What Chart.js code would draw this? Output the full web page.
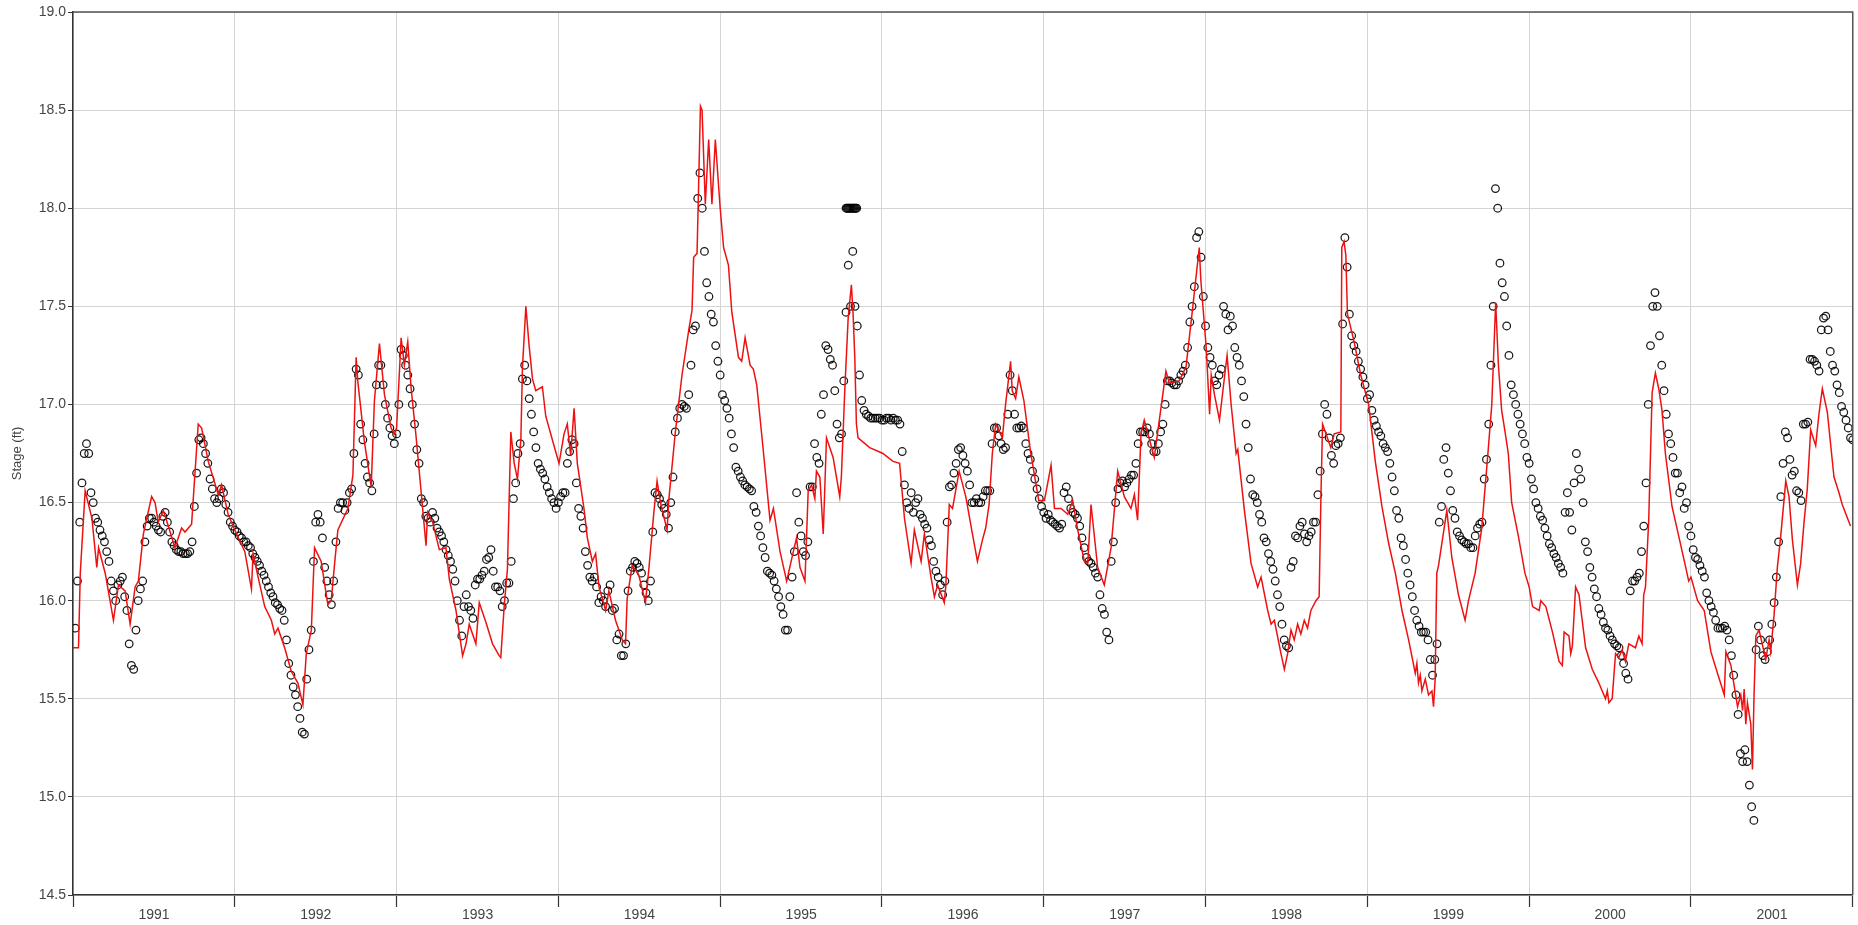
<!DOCTYPE html>
<html>
<head>
<meta charset="utf-8">
<script src="https://cdn.jsdelivr.net/npm/chart.js@4.4.0/dist/chart.umd.min.js"></script>
<style>
  html, body { margin: 0; padding: 0; background: #fff; }
  #wrap { width: 1858px; height: 925px; }
</style>
</head>
<body>
<div id="wrap"><canvas id="stageChart"></canvas></div>
<script>
// years shown on the x axis
const years = [1991, 1992, 1993, 1994, 1995, 1996, 1997, 1998, 1999, 2000, 2001];

// observed stage (ft), read every ~10 days (36 per year), centred in each step
const obsStage = [
  [15.86,16.4,16.75,16.75,16.5,16.4,16.33,16.25,16.1,16.0,16.1,16.02,15.78,15.65,16.0,16.1,16.38,16.42,16.38,16.35,16.45,16.35,16.28,16.25,16.24,16.24,16.3,16.65,16.83,16.75,16.62,16.52,16.52,16.55,16.45,16.38],
  [16.35,16.32,16.3,16.27,16.22,16.18,16.13,16.07,16.02,15.98,15.95,15.8,15.62,15.52,15.4,15.32,15.75,16.2,16.44,16.32,16.1,15.98,16.3,16.5,16.46,16.55,16.75,17.15,16.82,16.63,16.56,17.1,17.2,17.0,16.88,16.8],
  [17.0,17.25,17.15,17.0,16.77,16.52,16.43,16.4,16.42,16.35,16.3,16.23,16.16,16.0,15.82,16.03,15.95,16.08,16.11,16.15,16.22,16.15,16.07,15.97,16.09,16.2,16.6,16.8,17.2,17.03,16.86,16.7,16.65,16.58,16.52,16.47],
  [16.53,16.55,16.76,16.8,16.47,16.37,16.18,16.1,16.07,16.02,15.97,16.08,15.96,15.83,15.72,16.05,16.17,16.19,16.14,16.04,16.1,16.55,16.52,16.47,16.37,16.63,16.93,17.0,16.98,17.2,17.4,18.18,17.78,17.55,17.42,17.22],
  [17.05,16.98,16.85,16.68,16.63,16.59,16.57,16.48,16.38,16.27,16.15,16.13,16.06,15.97,15.85,16.02,16.25,16.4,16.25,16.3,16.58,16.73,16.95,17.3,17.23,17.07,16.83,17.12,17.71,17.78,17.4,17.02,16.95,16.93,16.93,16.93],
  [16.92,16.93,16.93,16.92,16.76,16.5,16.55,16.5,16.44,16.39,16.31,16.2,16.12,16.03,16.4,16.59,16.7,16.78,16.7,16.59,16.5,16.5,16.53,16.56,16.8,16.88,16.8,16.78,17.15,16.95,16.88,16.88,16.75,16.66,16.57,16.48],
  [16.42,16.41,16.39,16.37,16.55,16.52,16.45,16.42,16.32,16.22,16.19,16.14,16.03,15.93,15.8,16.3,16.57,16.61,16.6,16.64,16.7,16.86,16.86,16.85,16.76,16.8,16.9,17.12,17.11,17.1,17.15,17.2,17.42,17.6,17.88,17.55],
  [17.29,17.2,17.1,17.18,17.46,17.45,17.29,17.2,17.04,16.78,16.54,16.5,16.4,16.3,16.2,16.1,15.97,15.8,15.76,16.2,16.32,16.4,16.3,16.35,16.4,16.66,17.0,16.83,16.7,16.8,17.41,17.7,17.35,17.27,17.18,17.1],
  [17.05,16.92,16.86,16.8,16.76,16.63,16.46,16.32,16.21,16.08,15.95,15.87,15.84,15.8,15.62,15.78,16.48,16.78,16.56,16.42,16.33,16.3,16.29,16.27,16.37,16.4,16.72,17.2,18.1,17.72,17.55,17.25,17.05,16.95,16.85,16.73],
  [16.62,16.5,16.43,16.37,16.29,16.24,16.19,16.14,16.55,16.36,16.75,16.62,16.3,16.17,16.06,15.96,15.89,15.85,15.8,15.77,15.72,15.63,16.05,16.1,16.14,16.38,17.0,17.5,17.5,17.2,16.95,16.8,16.65,16.55,16.47,16.38],
  [16.26,16.21,16.15,16.04,15.97,15.9,15.86,15.87,15.8,15.62,15.42,15.18,15.18,14.95,15.75,15.8,15.7,15.8,15.99,16.3,16.7,16.83,16.64,16.56,16.51,16.9,17.23,17.22,17.17,17.44,17.38,17.2,17.1,16.99,16.92,16.83]
];

// observed stage (ft), the readings at the end of each ~10 day step
const obsStageEnd = [
  [16.1,16.6,16.8,16.55,16.42,16.36,16.3,16.2,16.05,16.08,16.12,15.95,15.67,15.85,16.06,16.3,16.42,16.4,16.36,16.43,16.4,16.3,16.26,16.25,16.24,16.25,16.48,16.82,16.8,16.7,16.57,16.5,16.57,16.49,16.4,16.36],
  [16.33,16.3,16.28,16.24,16.2,16.15,16.1,16.04,15.99,15.96,15.9,15.68,15.56,15.46,15.33,15.6,15.85,16.4,16.4,16.17,16.03,16.1,16.47,16.5,16.5,16.57,17.18,16.9,16.7,16.6,16.85,17.2,17.1,16.93,16.84,16.85],
  [17.28,17.2,17.08,16.9,16.7,16.5,16.42,16.45,16.37,16.33,16.26,16.2,16.1,15.9,15.97,15.97,15.91,16.11,16.13,16.21,16.26,16.07,16.05,16.0,16.09,16.52,16.75,17.13,17.12,16.95,16.78,16.67,16.62,16.55,16.5,16.5],
  [16.55,16.7,16.82,16.6,16.43,16.25,16.12,16.12,15.99,16.0,16.05,15.95,15.8,15.72,15.78,16.15,16.2,16.17,16.08,16.0,16.35,16.54,16.49,16.44,16.5,16.86,16.98,16.99,17.05,17.38,18.05,18.0,17.62,17.46,17.3,17.15],
  [17.02,16.93,16.78,16.66,16.61,16.58,16.56,16.45,16.33,16.22,16.14,16.1,16.02,15.93,15.85,16.12,16.55,16.33,16.23,16.58,16.8,16.7,17.05,17.28,17.2,16.9,16.85,17.47,17.5,17.5,17.15,16.97,16.94,16.93,16.93,16.92],
  [16.93,16.92,16.92,16.9,16.59,16.47,16.45,16.52,16.42,16.37,16.28,16.15,16.08,16.1,16.58,16.65,16.77,16.74,16.66,16.5,16.52,16.5,16.56,16.56,16.88,16.84,16.77,16.95,17.07,16.88,16.89,16.8,16.72,16.62,16.52,16.45],
  [16.44,16.4,16.38,16.39,16.58,16.47,16.44,16.38,16.27,16.2,16.17,16.12,15.96,15.84,16.2,16.5,16.6,16.58,16.62,16.64,16.8,16.86,16.88,16.8,16.76,16.86,17.0,17.12,17.1,17.12,17.17,17.29,17.5,17.85,17.75,17.4],
  [17.24,17.12,17.15,17.5,17.38,17.4,17.24,17.12,16.9,16.62,16.53,16.44,16.32,16.24,16.16,16.03,15.88,15.77,16.17,16.33,16.38,16.34,16.33,16.4,16.54,16.85,16.95,16.74,16.79,16.83,17.85,17.46,17.3,17.22,17.14,17.03],
  [16.97,16.89,16.84,16.78,16.7,16.56,16.42,16.28,16.14,16.02,15.9,15.84,15.84,15.7,15.7,16.4,16.72,16.65,16.46,16.35,16.31,16.29,16.27,16.33,16.39,16.62,16.9,17.5,18.0,17.62,17.4,17.1,17.0,16.9,16.8,16.7],
  [16.57,16.47,16.41,16.33,16.27,16.22,16.17,16.45,16.45,16.6,16.67,16.5,16.25,16.12,16.02,15.93,15.86,15.82,15.78,15.76,15.68,15.6,16.1,16.12,16.25,16.6,17.3,17.57,17.35,17.07,16.85,16.73,16.65,16.58,16.5,16.33],
  [16.22,16.18,16.12,16.0,15.94,15.86,15.86,15.85,15.72,15.52,15.22,15.24,15.06,14.88,15.87,15.72,15.74,15.88,16.12,16.53,16.86,16.72,16.66,16.55,16.9,16.91,17.23,17.2,17.38,17.45,17.27,17.17,17.06,16.96,16.88,16.82]
];

// the run of observed readings held at 18.0 ft late in 1995
const obsFlatDates = [1995.778, 1995.784, 1995.790, 1995.796, 1995.802, 1995.808, 1995.814, 1995.820, 1995.826, 1995.832, 1995.838, 1995.844];
const obsFlatStage = [18.0, 18.0, 18.0, 18.0, 18.0, 18.0, 18.0, 18.0, 18.0, 18.0, 18.0, 18.0];

// simulated stage: fraction of the year and stage (ft) at each vertex
const simFrac = [
  [0,.034,.045,.075,.117,.147,.158,.199,.25,.281,.322,.353,.384,.404,.435,.486,.507,.527,.558,.589,.63,.671,.692,.733,.774,.795,.836,.898,.918,.959],
  [0,.062,.103,.113,.144,.185,.226,.247,.267,.308,.349,.39,.421,.442,.473,.493,.534,.575,.596,.617,.637,.699,.73,.75,.76,.801,.843,.863,.894,.925,.966,.986],
  [0,.028,.048,.069,.089,.12,.161,.182,.192,.223,.264,.305,.326,.367,.408,.429,.449,.49,.511,.552,.593,.634,.644,.665,.685,.706,.727,.747,.768,.778,.799,.819,.84,.86,.901,.922,.983],
  [.004,.035,.055,.076,.097,.117,.158,.179,.21,.23,.251,.292,.312,.353,.395,.415,.425,.456,.497,.538,.559,.59,.61,.631,.672,.682,.723,.764,.806,.826,.836,.857,.878,.888,.908,.929,.949,.97],
  [0,.021,.051,.072,.113,.133,.154,.185,.205,.226,.267,.308,.329,.37,.411,.452,.472,.493,.524,.544,.565,.585,.595,.616,.637,.657,.698,.739,.749,.77,.791,.811,.821,.832,.842,.852,.924],
  [.006,.068,.109,.139,.18,.2,.242,.262,.303,.324,.344,.385,.395,.416,.436,.477,.518,.559,.59,.621,.641,.662,.682,.703,.744,.764,.795,.805,.826,.846,.877,.918,.969],
  [.004,.045,.066,.107,.148,.179,.21,.251,.272,.292,.333,.374,.416,.457,.498,.539,.56,.58,.601,.621,.683,.724,.755,.776,.837,.879,.92,.961,.971],
  [.004,.025,.035,.055,.086,.117,.133,.158,.189,.199,.24,.281,.322,.343,.384,.405,.425,.466,.487,.507,.528,.548,.569,.589,.61,.63,.651,.682,.702,.713,.723,.774,.795,.836,.842,.856,.867,.877,.918,.959],
  [.008,.049,.09,.132,.173,.214,.255,.296,.306,.316,.327,.337,.358,.378,.399,.409,.419,.429,.44,.491,.522,.563,.604,.625,.666,.707,.748,.769,.793,.81,.83,.851,.871,.892,.933,.974],
  [0,.021,.062,.072,.103,.144,.185,.205,.216,.246,.257,.267,.287,.308,.349,.39,.431,.472,.483,.493,.513,.534,.554,.575,.595,.616,.657,.678,.698,.708,.719,.739,.76,.78,.801,.821,.842,.883,.924,.965,.986],
  [0,.041,.082,.123,.164,.206,.216,.247,.288,.308,.319,.329,.339,.349,.37,.38,.39,.401,.421,.462,.483,.493,.514,.534,.555,.586,.606,.627,.658,.678,.699,.719,.74,.771,.791,.812,.843,.884,.915,.935,.986]
];
const simStage = [
  [15.76,15.76,16.14,16.56,16.42,16.17,16.27,16.14,15.9,16.08,16.05,15.88,16.07,16.1,16.34,16.53,16.5,16.4,16.46,16.38,16.27,16.37,16.35,16.39,16.9,16.88,16.71,16.54,16.59,16.44],
  [16.36,16.25,16.06,16.24,16.12,15.97,15.9,15.83,15.86,15.76,15.64,15.58,15.47,15.73,15.85,16.27,16.2,15.98,16.0,16.19,16.36,16.47,16.64,17.24,17.12,16.81,16.58,17.02,17.31,17.05,16.88,16.85],
  [16.88,17.34,17.2,17.32,17.09,16.84,16.47,16.28,16.45,16.4,16.26,16.27,16.11,15.95,15.72,15.78,15.88,15.78,15.99,15.89,15.78,15.72,15.71,15.97,16.16,16.86,16.7,16.62,16.82,17.19,17.5,17.3,17.13,17.07,17.09,16.94,16.76],
  [16.7,16.85,16.9,16.74,16.98,16.7,16.47,16.32,16.2,16.24,16.07,15.95,16.05,15.9,15.8,15.78,16.01,16.18,16.13,15.99,16.16,16.45,16.61,16.5,16.36,16.51,16.86,17.15,17.38,17.48,17.75,17.77,18.52,18.5,18.02,18.35,18.02,18.35],
  [18.0,17.8,17.71,17.47,17.24,17.22,17.34,17.2,17.18,17.1,16.76,16.41,16.47,16.25,16.1,16.25,16.32,16.17,16.1,16.56,16.59,16.52,16.66,16.63,16.34,16.83,16.73,16.53,16.63,17.07,17.44,17.61,17.47,17.24,16.9,16.83,16.78],
  [16.75,16.71,16.7,16.42,16.19,16.36,16.2,16.34,16.12,16.02,16.08,15.99,16.08,16.49,16.47,16.66,16.53,16.34,16.2,16.31,16.37,16.49,16.75,16.9,16.83,17.0,17.22,17.07,17.03,17.14,17.02,16.76,16.51],
  [16.51,16.69,16.47,16.47,16.44,16.51,16.36,16.2,16.19,16.49,16.17,16.08,16.27,16.66,16.53,16.47,16.54,16.41,16.85,16.92,16.73,16.98,17.17,17.11,17.12,17.19,17.49,17.8,17.63],
  [17.29,16.95,17.15,17.05,16.92,17.14,17.25,17.0,16.75,16.77,16.46,16.19,16.07,16.12,15.95,15.88,15.9,15.73,15.65,15.73,15.85,15.8,15.88,15.83,15.9,15.86,15.95,16.0,16.02,16.53,16.9,16.78,16.85,16.86,17.8,17.83,17.76,17.46,17.32,17.15],
  [17.0,16.71,16.48,16.29,16.14,15.95,15.8,15.63,15.68,15.58,15.62,15.54,15.6,15.52,15.54,15.46,15.6,16.14,16.18,16.46,16.22,16.03,15.9,16.0,16.14,16.37,16.78,17.0,17.52,17.2,16.97,16.86,16.75,16.5,16.33,16.14],
  [16.07,15.97,15.95,16.0,15.97,15.84,15.69,15.67,15.84,15.82,15.73,15.77,16.07,16.03,15.76,15.65,15.58,15.5,15.54,15.48,15.5,15.73,15.71,15.75,15.69,15.78,15.76,15.82,15.78,16.03,16.07,16.41,17.06,17.16,17.08,16.97,16.75,16.48,16.33,16.18,16.1],
  [16.12,16.0,15.95,15.74,15.63,15.52,15.74,15.67,15.46,15.52,15.44,15.55,15.37,15.48,15.37,15.14,15.52,15.82,15.85,15.7,15.8,15.74,15.93,16.17,16.33,16.61,16.53,16.31,16.08,16.19,16.4,16.57,16.87,16.79,16.95,17.08,16.96,16.63,16.55,16.49,16.38]
];

// y axis range and step
const stageMin = 14.5;
const stageMax = 19.0;
const stageStep = 0.5;

// build point lists for the library
const simPoints = [];
years.forEach(function(yr, k) {
    simFrac[k].forEach(function(f, i) {
        simPoints.push({ x: yr + f, y: simStage[k][i] });
    });
});

const obsPoints = [];
years.forEach(function(yr, k) {
    obsStage[k].forEach(function(v, i) {
        obsPoints.push({ x: yr + (i + 0.5) / 36, y: v });
        obsPoints.push({ x: yr + (i + 1) / 36, y: obsStageEnd[k][i] });
    });
});
obsFlatDates.forEach(function(d, i) {
    obsPoints.push({ x: d, y: obsFlatStage[i] });
});

// top and right frame lines
const framePlugin = {
    id: 'frame',
    afterDraw: function(chart) {
        const a = chart.chartArea;
        const ctx = chart.ctx;
        ctx.save();
        ctx.strokeStyle = '#555';
        ctx.lineWidth = 1.5;
        ctx.beginPath();
        ctx.moveTo(a.left, a.top);
        ctx.lineTo(a.right, a.top);
        ctx.lineTo(a.right, a.bottom);
        ctx.stroke();
        ctx.restore();
    }
};

const ctx = document.getElementById('stageChart').getContext('2d');
const stageChart = new Chart(ctx, {
    type: 'scatter',
    data: {
        datasets: [{
            label: 'Simulated',
            data: simPoints,
            showLine: true,
            borderColor: '#ee1111',
            borderWidth: 1.5,
            pointRadius: 0,
            tension: 0
        }, {
            label: 'Observed',
            data: obsPoints,
            showLine: false,
            pointStyle: 'circle',
            pointRadius: 3.8,
            borderColor: 'rgba(0,0,0,0.9)',
            backgroundColor: 'rgba(0,0,0,0)',
            pointBorderWidth: 1.25
        }]
    },
    options: {
        responsive: true,
        maintainAspectRatio: false,
        animation: false,
        layout: { padding: { top: 12, right: 2, left: 0, bottom: 0 } },
        plugins: {
            legend: { display: false },
            tooltip: { enabled: false }
        },
        scales: {
            x: {
                type: 'linear',
                min: years[0],
                max: years[years.length - 1] + 1,
                afterFit: function(scale) { scale.height = 30; },
                ticks: {
                    stepSize: 1,
                    autoSkip: false,
                    maxRotation: 0,
                    labelOffset: 81,
                    padding: 0,
                    color: '#444',
                    font: { family: 'Liberation Sans, Arial, sans-serif', size: 14 },
                    callback: function(v) { return years.indexOf(v) >= 0 ? String(v) : ''; }
                },
                grid: { color: '#d4d4d4', lineWidth: 1, tickLength: 12, tickColor: '#333', tickWidth: 1.2 },
                border: { color: '#333', width: 1.5 }
            },
            y: {
                min: stageMin,
                max: stageMax,
                afterFit: function(scale) { scale.width = 73; },
                ticks: {
                    stepSize: stageStep,
                    padding: 2,
                    color: '#444',
                    font: { family: 'Liberation Sans, Arial, sans-serif', size: 14 },
                    callback: function(v) { return v.toFixed(1); }
                },
                title: {
                    display: true,
                    text: 'Stage (ft)',
                    color: '#444',
                    padding: { top: 10, bottom: 0 },
                    font: { family: 'Liberation Sans, Arial, sans-serif', size: 13 }
                },
                grid: { color: '#d4d4d4', lineWidth: 1, tickLength: 5, tickColor: '#333' },
                border: { color: '#333', width: 1.5 }
            }
        }
    },
    plugins: [framePlugin]
});
</script>
</body>
</html>
